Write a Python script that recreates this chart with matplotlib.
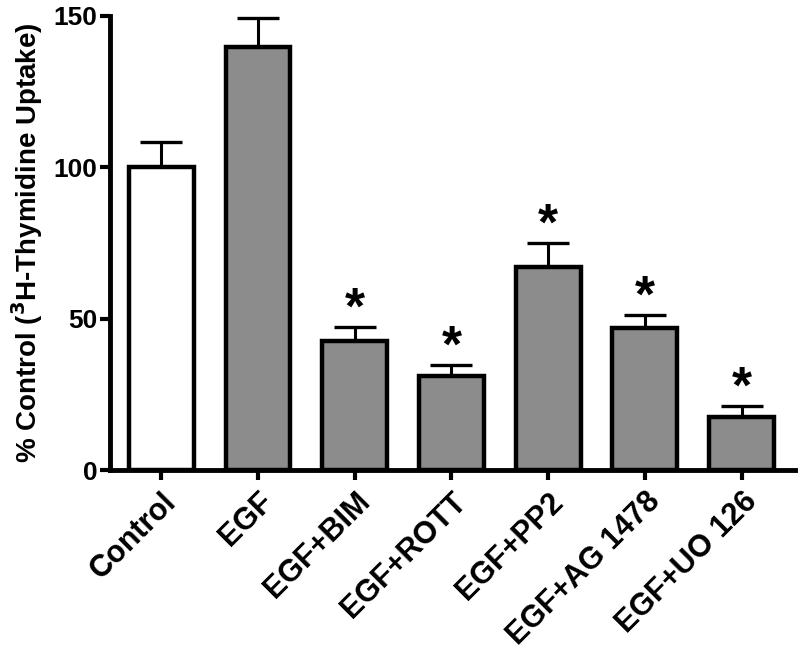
import numpy as np
import matplotlib.pyplot as plt

plt.rcParams['font.family'] = ['Liberation Sans', 'DejaVu Sans']
plt.rcParams['font.weight'] = 'bold'
plt.rcParams['mathtext.default'] = 'bf'

groups = ['Control', 'EGF', 'EGF+BIM', 'EGF+ROTT', 'EGF+PP2', 'EGF+AG 1478', 'EGF+UO 126']
means = [100, 139.8, 42.7, 31.1, 67.2, 46.9, 17.5]
errs = [8.2, 9.5, 4.5, 3.6, 7.7, 4.3, 3.6]
colors = ['white', '#8c8c8c', '#8c8c8c', '#8c8c8c', '#8c8c8c', '#8c8c8c', '#8c8c8c']
signif = [False, False, True, True, True, True, True]

fig = plt.figure(figsize=(8, 6.64), dpi=100)
ax = fig.add_axes([0.1375, 0.292, 0.856, 0.684])

x = np.arange(len(groups))
ax.bar(x, means, width=0.67, color=colors, edgecolor='black', linewidth=3.2, zorder=3)
ax.errorbar(x, means, yerr=[np.zeros(len(errs)), errs], fmt='none', ecolor='black',
            elinewidth=2.2, capsize=15, capthick=2.4, zorder=2)

# significance stars
for i in range(len(groups)):
    if signif[i]:
        ax.text(x[i], means[i] + errs[i] - 2.5, '*', ha='center', va='bottom',
                fontsize=37, fontweight='bold')

ax.set_xlim(-0.53, 6.55)
ax.set_ylim(0, 150)
ax.set_yticks([0, 50, 100, 150])
ax.set_xticks(x)
ax.set_xticklabels(groups, rotation=45, ha='right', rotation_mode='anchor', fontsize=22)
ax.tick_params(axis='y', labelsize=19, width=3, length=7, pad=2)
ax.tick_params(axis='x', width=3, length=7, pad=5)

ax.spines['top'].set_visible(False)
ax.spines['right'].set_visible(False)
ax.spines['left'].set_linewidth(3.5)
ax.spines['bottom'].set_linewidth(3.5)

ax.set_ylabel('% Control ($^{3}$H-Thymidine Uptake)', fontsize=20, fontweight='bold', labelpad=6)

fig.savefig('out.png', dpi=100)
